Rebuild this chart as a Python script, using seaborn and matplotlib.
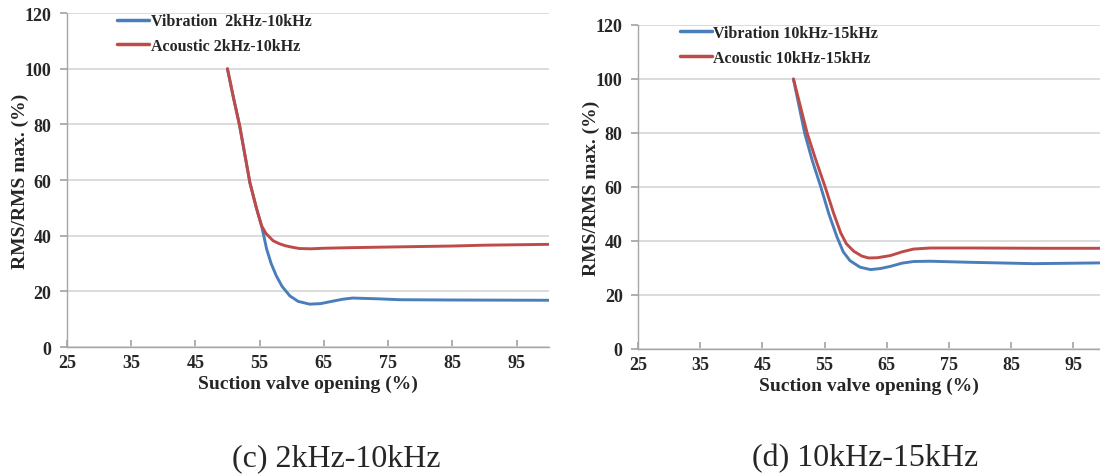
import matplotlib
matplotlib.use("Agg")
import matplotlib.pyplot as plt
import seaborn as sns
import pandas as pd

# valve opening (%) and normalised RMS (%)
# panel (c): 2kHz-10kHz
xv_c = [50, 50.9, 51.9, 53.5, 54.5, 55.3, 55.7, 56.1, 56.8, 57.6, 58.5, 59.7, 61, 62.8,
        64.5, 66, 68, 69.5, 73.7, 76.8, 85, 100]
vib_c = [100, 90, 79.5, 59, 50, 43.6, 39.5, 35.2, 30, 25.6, 21.8, 18.4, 16.4, 15.4,
         15.6, 16.3, 17.2, 17.6, 17.3, 17.0, 16.9, 16.8]
xa_c = [50, 50.9, 51.9, 53.5, 54.5, 55.3, 56, 57.1, 58, 59, 60, 61.2, 63, 65, 69,
        76.8, 85, 90, 100]
aco_c = [100, 90, 79.5, 59, 50, 43.6, 40.8, 38.2, 37.2, 36.4, 35.9, 35.4, 35.3, 35.5, 35.7,
         36.0, 36.3, 36.6, 36.9]

# panel (d): 10kHz-15kHz
xv_d = [50, 51.8, 53.0, 54.4, 55.7, 57, 58, 59.1, 60.7, 62.4, 64, 65.6, 67.5, 69.3,
        72, 78.5, 88.6, 100]
vib_d = [100, 80, 70, 60, 50, 41.5, 36, 32.7, 30.3, 29.4, 29.8, 30.6, 31.8, 32.4,
         32.5, 32.1, 31.6, 31.9]
xa_d = [50, 52.2, 53.6, 55.1, 56.5, 57.6, 58.5, 59.7, 61, 62.1, 63.5, 65.6, 67.5, 69.3,
        72, 78.5, 90, 100]
aco_d = [100, 80, 70, 60, 50, 43, 39, 36.2, 34.4, 33.7, 33.8, 34.6, 36.0, 37.0,
         37.4, 37.4, 37.3, 37.3]

labels_c = ["Vibration  2kHz-10kHz", "Acoustic 2kHz-10kHz"]
labels_d = ["Vibration 10kHz-15kHz", "Acoustic 10kHz-15kHz"]
captions = ["(c) 2kHz-10kHz", "(d) 10kHz-15kHz"]
x_ticks = [25, 35, 45, 55, 65, 75, 85, 95]
y_ticks = [0, 20, 40, 60, 80, 100, 120]

BLUE = "#4A7EBB"
RED = "#BE4B48"
GRID = "#D9D9D9"
SPINE = "#A6A6A6"

sns.set_theme(style="white")
plt.rcParams["font.family"] = ["Liberation Serif", "DejaVu Serif"]

fig = plt.figure(figsize=(11, 4.77), dpi=100)
ax_c = fig.add_axes([0.0607, 0.2704, 0.4382, 0.700])
ax_d = fig.add_axes([0.5800, 0.2663, 0.4200, 0.6792])


def long_frame(xv, vib, xa, aco, labels):
    a = pd.DataFrame({"x": xv, "y": vib, "series": labels[0]})
    b = pd.DataFrame({"x": xa, "y": aco, "series": labels[1]})
    return pd.concat([a, b], ignore_index=True)


def draw_panel(ax, df, labels, xmax, leg_x):
    sns.lineplot(data=df, x="x", y="y", hue="series", hue_order=labels,
                 palette=[BLUE, RED], linewidth=2.1, ax=ax, legend=True,
                 solid_joinstyle="round", solid_capstyle="round")
    ax.set_xlim(25, xmax)
    ax.set_ylim(0, 120)
    ax.set_xticks(x_ticks)
    ax.set_yticks(y_ticks)
    ax.yaxis.grid(True, color=GRID, linewidth=1.3)
    ax.xaxis.grid(False)
    ax.set_axisbelow(True)
    for s in ["top", "right"]:
        ax.spines[s].set_visible(False)
    for s in ["left", "bottom"]:
        ax.spines[s].set_color(SPINE)
        ax.spines[s].set_linewidth(1.0)
    ax.tick_params(axis="x", direction="in", length=5, color=SPINE, pad=5,
                   labelsize=13, bottom=True)
    ax.tick_params(axis="y", direction="out", length=5, color=SPINE, pad=6,
                   labelsize=13, left=True)
    for t in ax.get_xticklabels() + ax.get_yticklabels():
        t.set_fontweight("bold")
    ax.set_xlabel("Suction valve opening (%)", fontsize=14, fontweight="bold", labelpad=2.5)
    ax.set_ylabel("RMS/RMS max. (%)", fontsize=14, fontweight="bold", labelpad=-3)
    leg = ax.legend(loc="upper left", bbox_to_anchor=(leg_x, 1.0), frameon=False,
                    fontsize=11.5, handlelength=2.0, handletextpad=0.1,
                    labelspacing=0.55, borderpad=0, borderaxespad=0)
    for t in leg.get_texts():
        t.set_fontweight("bold")
    for h in leg.get_lines():
        h.set_linewidth(2.5)


draw_panel(ax_c, long_frame(xv_c, vib_c, xa_c, aco_c, labels_c), labels_c, 100, 0.105)
draw_panel(ax_d, long_frame(xv_d, vib_d, xa_d, aco_d, labels_d), labels_d, 99.3, 0.09)

fig.text(0.306, 0.008, captions[0], ha="center", va="bottom", fontsize=23)
fig.text(0.786, 0.008, captions[1], ha="center", va="bottom", fontsize=23)

fig.savefig("out.png", dpi=100)
